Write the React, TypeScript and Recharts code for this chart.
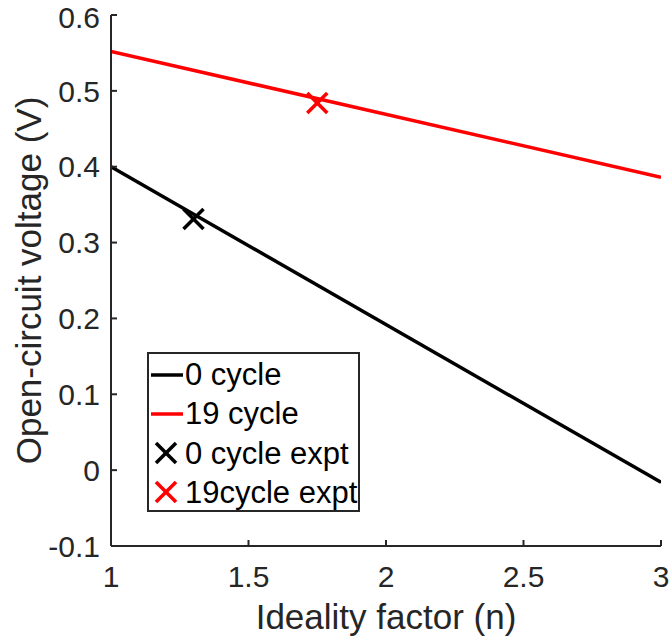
import React from "react";
import { ComposedChart, Line, Scatter, XAxis, YAxis, Legend, Label } from "recharts";

const idealityFactor = [1, 3];
const voc0Cycle = [0.4, -0.016];
const voc19Cycle = [0.552, 0.386];
const exptN0 = [1.3];
const exptVoc0 = [0.331];
const exptN19 = [1.75];
const exptVoc19 = [0.484];
const seriesNames = ["0 cycle", "19 cycle", "0 cycle expt", "19cycle expt"];
const xTicks = [1, 1.5, 2, 2.5, 3];
const yTicks = [-0.1, 0, 0.1, 0.2, 0.3, 0.4, 0.5, 0.6];

const line0 = idealityFactor.map((n, i) => ({ n, voc: voc0Cycle[i] }));
const line19 = idealityFactor.map((n, i) => ({ n, voc: voc19Cycle[i] }));
const pts0 = exptN0.map((n, i) => ({ n, voc: exptVoc0[i] }));
const pts19 = exptN19.map((n, i) => ({ n, voc: exptVoc19[i] }));

const AXIS = "#262626";
const FONT = "'Liberation Sans', Arial, sans-serif";

const cross = (color: string) => (props: any) => {
  const { cx, cy } = props;
  const h = 10;
  return (
    <g stroke={color} strokeWidth={3.5}>
      <line x1={cx - h} y1={cy - h} x2={cx + h} y2={cy + h} />
      <line x1={cx - h} y1={cy + h} x2={cx + h} y2={cy - h} />
    </g>
  );
};

const legendRows = [
  { name: seriesNames[0], color: "#000000", kind: "line" },
  { name: seriesNames[1], color: "#FF0000", kind: "line" },
  { name: seriesNames[2], color: "#000000", kind: "cross" },
  { name: seriesNames[3], color: "#FF0000", kind: "cross" },
];

const LegendBox = () => (
  <div
    style={{
      border: `2px solid ${AXIS}`,
      background: "#fff",
      width: 213,
      height: 160,
      boxSizing: "border-box",
      fontFamily: FONT,
      fontSize: 31,
      color: "#000",
      paddingTop: 1,
    }}
  >
    {legendRows.map((r) => (
      <div key={r.name} style={{ display: "flex", alignItems: "center", height: 39.5, whiteSpace: "nowrap" }}>
        <svg width={36} height={30} style={{ flex: "none" }}>
          {r.kind === "line" ? (
            <line x1={2} y1={15} x2={34} y2={15} stroke={r.color} strokeWidth={3.5} />
          ) : (
            <g stroke={r.color} strokeWidth={3.5}>
              <line x1={7} y1={4} x2={27} y2={24} />
              <line x1={7} y1={24} x2={27} y2={4} />
            </g>
          )}
        </svg>
        <span>{r.name}</span>
      </div>
    ))}
  </div>
);

export default function App() {
  return (
    <div style={{ position: "absolute", left: 0, top: 0, fontFamily: FONT, background: "#fff" }}>
      <ComposedChart width={669} height={640} margin={{ top: 15, right: 8, bottom: 0, left: 0 }}>
        <XAxis
          xAxisId="bottom"
          dataKey="n"
          type="number"
          domain={[1, 3]}
          ticks={xTicks}
          allowDataOverflow
          height={94}
          stroke={AXIS}
          strokeWidth={2}
          tickSize={-6}
          tickMargin={26}
          tick={{ fill: AXIS, fontSize: 30, fontFamily: FONT }}
        >
          <Label
            content={(p: any) => {
              const vb = p.viewBox;
              return (
                <text x={vb.x + vb.width / 2} y={629} textAnchor="middle" fill={AXIS} fontSize={35} fontFamily={FONT}>
                  Ideality factor (n)
                </text>
              );
            }}
          />
        </XAxis>
        <XAxis
          xAxisId="top"
          orientation="top"
          dataKey="n"
          type="number"
          domain={[1, 3]}
          ticks={xTicks}
          height={0}
          stroke={AXIS}
          strokeWidth={2}
          tickSize={-6}
          tickFormatter={() => ""}
        />
        <YAxis
          yAxisId="left"
          type="number"
          domain={[-0.1, 0.6]}
          ticks={yTicks}
          allowDataOverflow
          width={111}
          stroke={AXIS}
          strokeWidth={2}
          tickSize={-6}
          tickMargin={17}
          tick={{ fill: AXIS, fontSize: 30, fontFamily: FONT }}
        >
          <Label
            content={(p: any) => {
              const vb = p.viewBox;
              const cy = vb.y + vb.height / 2;
              return (
                <text
                  x={28}
                  y={cy}
                  transform={`rotate(-90 28 ${cy})`}
                  textAnchor="middle"
                  dominantBaseline="central"
                  fill={AXIS}
                  fontSize={35}
                  fontFamily={FONT}
                >
                  Open-circuit voltage (V)
                </text>
              );
            }}
          />
        </YAxis>
        <YAxis
          yAxisId="right"
          orientation="right"
          type="number"
          domain={[-0.1, 0.6]}
          ticks={yTicks}
          width={0}
          stroke={AXIS}
          strokeWidth={2}
          tickSize={-6}
          tickFormatter={() => ""}
        />
        <Legend
          layout="horizontal"
          verticalAlign="middle"
          align="center"
          wrapperStyle={{ left: 147, top: 352, width: "auto" }}
          content={() => <LegendBox />}
        />
        <Line
          xAxisId="bottom"
          yAxisId="left"
          data={line0}
          dataKey="voc"
          name={seriesNames[0]}
          type="linear"
          stroke="#000000"
          strokeWidth={3.5}
          dot={false}
          activeDot={false}
          isAnimationActive={false}
        />
        <Line
          xAxisId="bottom"
          yAxisId="left"
          data={line19}
          dataKey="voc"
          name={seriesNames[1]}
          type="linear"
          stroke="#FF0000"
          strokeWidth={3.5}
          dot={false}
          activeDot={false}
          isAnimationActive={false}
        />
        <Scatter
          xAxisId="bottom"
          yAxisId="left"
          data={pts0}
          dataKey="voc"
          name={seriesNames[2]}
          shape={cross("#000000")}
          isAnimationActive={false}
        />
        <Scatter
          xAxisId="bottom"
          yAxisId="left"
          data={pts19}
          dataKey="voc"
          name={seriesNames[3]}
          shape={cross("#FF0000")}
          isAnimationActive={false}
        />
      </ComposedChart>
    </div>
  );
}
